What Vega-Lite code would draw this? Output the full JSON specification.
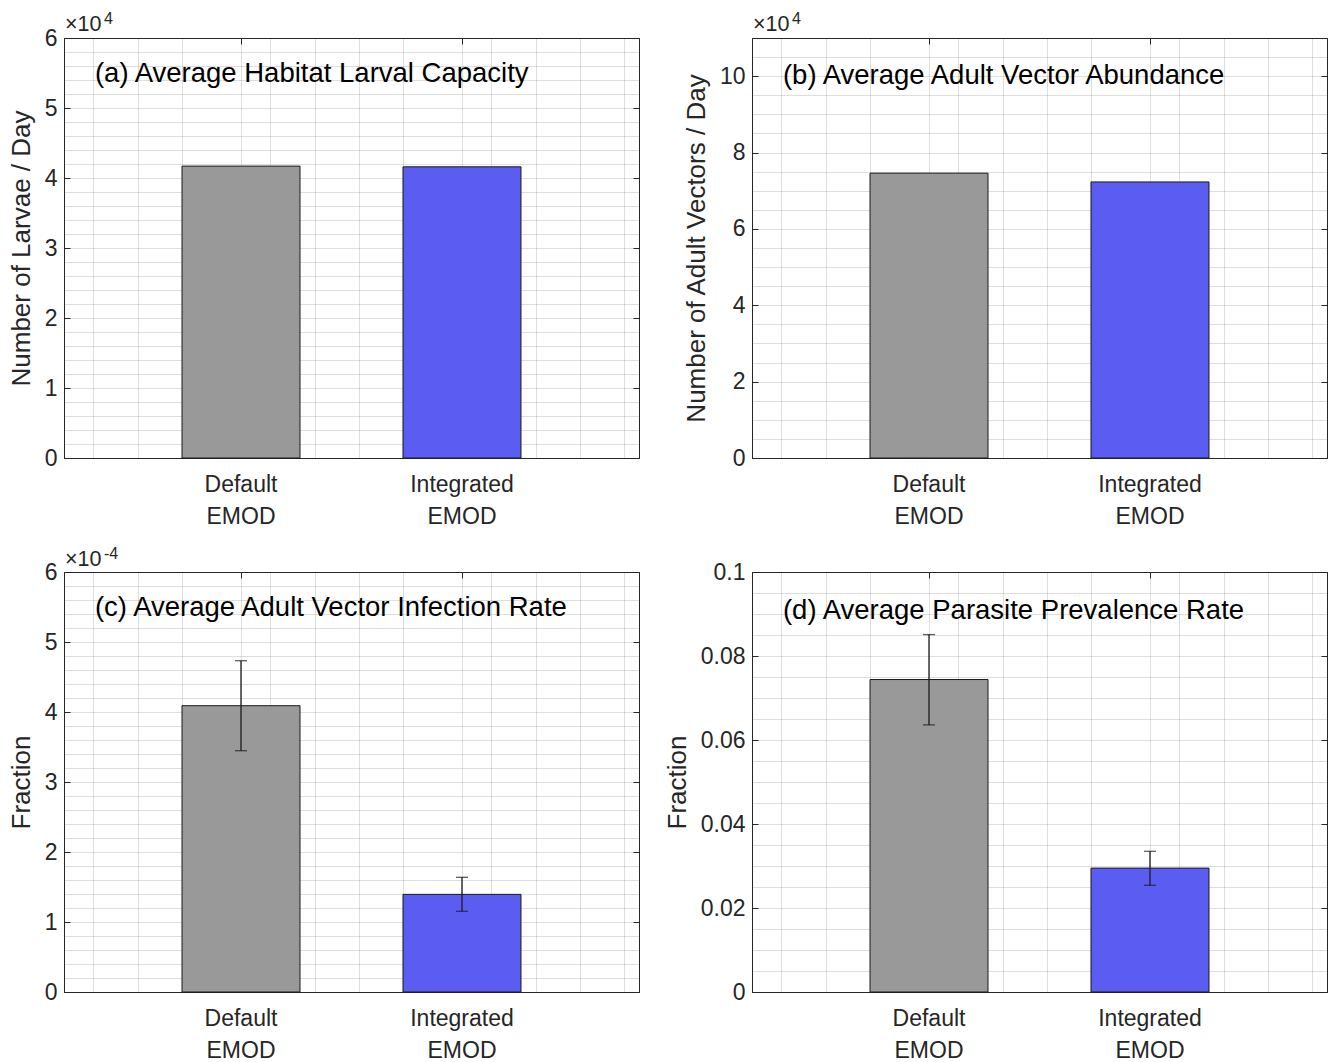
{
  "$schema": "https://vega.github.io/schema/vega-lite/v6.json",
  "background": "white",
  "padding": {"left": 7, "top": 10, "right": 2, "bottom": 2},
  "columns": 2,
  "spacing": {"row": 114, "column": 113},
  "bounds": "flush",
  "concat": [
    {
      "width": 575, "height": 420,
      "data": {"values": [{"model": "Default EMOD", "value": 41700}, {"model": "Integrated EMOD", "value": 41600}]},
      "layer": [
        {"layer": [
          {"mark": {"type": "bar", "stroke": "#1a1a1a", "strokeWidth": 1},
           "encoding": {
             "x": {"field": "model", "type": "nominal", "sort": null, "scale": {"paddingInner": 0.466, "paddingOuter": 0.534},
                   "axis": {"title": null, "labelAngle": 0, "labelExpr": "split(datum.label, ' ')", "labelLineHeight": 32, "labelPadding": 21, "grid": false, "labelBaseline": "top"}},
             "y": {"field": "value", "type": "quantitative", "scale": {"domain": [0, 60000], "nice": false},
                   "axis": {"title": "Number of Larvae / Day", "values": [0,2000,4000,6000,8000,10000,12000,14000,16000,18000,20000,22000,24000,26000,28000,30000,32000,34000,36000,38000,40000,42000,44000,46000,48000,50000,52000,54000,56000,58000,60000],
                            "labelExpr": "datum.value % 10000 == 0 ? format(datum.value/10000,'d') : ''",
                            "gridOpacity": {"condition": {"test": "datum.value % 10000 == 0", "value": 0.15}, "value": 0.3},
                            "gridDash": {"condition": {"test": "datum.value % 10000 == 0", "value": []}, "value": [1, 1]},
                            "tickOpacity": {"condition": {"test": "datum.value % 10000 == 0", "value": 1}, "value": 0}}},
             "color": {"field": "model", "type": "nominal", "scale": {"domain": ["Default EMOD", "Integrated EMOD"], "range": ["#999999", "#5b5cf2"]}, "legend": null}
           }}
        ]},
        {"data": {"values": [{}]},
         "layer": [
          {"mark": {"type": "text", "text": "(a) Average Habitat Larval Capacity", "align": "left", "baseline": "middle", "fontSize": 27.5, "color": "#000000"},
           "encoding": {
             "x": {"datum": 0.34, "type": "quantitative", "scale": {"domain": [0.2, 2.8], "nice": false, "zero": false},
                   "axis": {"orient": "top", "title": null, "labels": false, "grid": true, "values": [0.333,0.533,0.733,1,1.133,1.333,1.533,1.733,2,2.133,2.333,2.533,2.733],
                            "gridOpacity": {"condition": {"test": "datum.value == 1 || datum.value == 2", "value": 0.15}, "value": 0.3},
                            "gridDash": {"condition": {"test": "datum.value == 1 || datum.value == 2", "value": []}, "value": [1, 1]},
                            "tickOpacity": {"condition": {"test": "datum.value == 1 || datum.value == 2", "value": 1}, "value": 0}}},
             "y": {"datum": 54860, "type": "quantitative",
                   "axis": {"orient": "right", "title": null, "labels": false, "grid": false, "domain": false, "values": [0,10000,20000,30000,40000,50000,60000]}}
           }},
          {"mark": {"type": "text", "text": "×10", "align": "left", "baseline": "alphabetic", "fontSize": 21.5, "dx": 1, "dy": -7, "color": "#262626"},
           "encoding": {"x": {"datum": 0.2, "type": "quantitative"}, "y": {"datum": 60000, "type": "quantitative"}}},
          {"mark": {"type": "text", "text": "4", "align": "left", "baseline": "alphabetic", "fontSize": 16, "dx": 40, "dy": -14, "color": "#262626"},
           "encoding": {"x": {"datum": 0.2, "type": "quantitative"}, "y": {"datum": 60000, "type": "quantitative"}}}
         ]}
      ],
      "resolve": {"scale": {"x": "independent"}, "axis": {"y": "independent"}}
    },
    {
      "width": 575, "height": 420,
      "data": {"values": [{"model": "Default EMOD", "value": 74600}, {"model": "Integrated EMOD", "value": 72300}]},
      "layer": [
        {"layer": [
          {"mark": {"type": "bar", "stroke": "#1a1a1a", "strokeWidth": 1},
           "encoding": {
             "x": {"field": "model", "type": "nominal", "sort": null, "scale": {"paddingInner": 0.466, "paddingOuter": 0.534},
                   "axis": {"title": null, "labelAngle": 0, "labelExpr": "split(datum.label, ' ')", "labelLineHeight": 32, "labelPadding": 21, "grid": false, "labelBaseline": "top"}},
             "y": {"field": "value", "type": "quantitative", "scale": {"domain": [0, 110000], "nice": false},
                   "axis": {"title": "Number of Adult Vectors / Day", "values": [0,5000,10000,15000,20000,25000,30000,35000,40000,45000,50000,55000,60000,65000,70000,75000,80000,85000,90000,95000,100000,105000,110000],
                            "labelExpr": "datum.value % 20000 == 0 ? format(datum.value/10000,'d') : ''",
                            "gridOpacity": {"condition": {"test": "datum.value % 20000 == 0", "value": 0.15}, "value": 0.3},
                            "gridDash": {"condition": {"test": "datum.value % 20000 == 0", "value": []}, "value": [1, 1]},
                            "tickOpacity": {"condition": {"test": "datum.value % 20000 == 0", "value": 1}, "value": 0}}},
             "color": {"field": "model", "type": "nominal", "scale": {"domain": ["Default EMOD", "Integrated EMOD"], "range": ["#999999", "#5b5cf2"]}, "legend": null}
           }}
        ]},
        {"data": {"values": [{}]},
         "layer": [
          {"mark": {"type": "text", "text": "(b) Average Adult Vector Abundance", "align": "left", "baseline": "middle", "fontSize": 27.5, "color": "#000000"},
           "encoding": {
             "x": {"datum": 0.34, "type": "quantitative", "scale": {"domain": [0.2, 2.8], "nice": false, "zero": false},
                   "axis": {"orient": "top", "title": null, "labels": false, "grid": true, "values": [0.333,0.533,0.733,1,1.133,1.333,1.533,1.733,2,2.133,2.333,2.533,2.733],
                            "gridOpacity": {"condition": {"test": "datum.value == 1 || datum.value == 2", "value": 0.15}, "value": 0.3},
                            "gridDash": {"condition": {"test": "datum.value == 1 || datum.value == 2", "value": []}, "value": [1, 1]},
                            "tickOpacity": {"condition": {"test": "datum.value == 1 || datum.value == 2", "value": 1}, "value": 0}}},
             "y": {"datum": 100000, "type": "quantitative",
                   "axis": {"orient": "right", "title": null, "labels": false, "grid": false, "domain": false, "values": [0,20000,40000,60000,80000,100000]}}
           }},
          {"mark": {"type": "text", "text": "×10", "align": "left", "baseline": "alphabetic", "fontSize": 21.5, "dx": 1, "dy": -7, "color": "#262626"},
           "encoding": {"x": {"datum": 0.2, "type": "quantitative"}, "y": {"datum": 110000, "type": "quantitative"}}},
          {"mark": {"type": "text", "text": "4", "align": "left", "baseline": "alphabetic", "fontSize": 16, "dx": 40, "dy": -14, "color": "#262626"},
           "encoding": {"x": {"datum": 0.2, "type": "quantitative"}, "y": {"datum": 110000, "type": "quantitative"}}}
         ]}
      ],
      "resolve": {"scale": {"x": "independent"}, "axis": {"y": "independent"}}
    },
    {
      "width": 575, "height": 420,
      "data": {"values": [{"model": "Default EMOD", "value": 0.000409, "lo": 0.0003447, "hi": 0.0004733}, {"model": "Integrated EMOD", "value": 0.0001395, "lo": 0.0001153, "hi": 0.0001638}]},
      "layer": [
        {"layer": [
          {"mark": {"type": "bar", "stroke": "#1a1a1a", "strokeWidth": 1},
           "encoding": {
             "x": {"field": "model", "type": "nominal", "sort": null, "scale": {"paddingInner": 0.466, "paddingOuter": 0.534},
                   "axis": {"title": null, "labelAngle": 0, "labelExpr": "split(datum.label, ' ')", "labelLineHeight": 32, "labelPadding": 21, "grid": false, "labelBaseline": "top"}},
             "y": {"field": "value", "type": "quantitative", "scale": {"domain": [0, 0.0006], "nice": false},
                   "axis": {"title": "Fraction", "values": [0,2e-5,4e-5,6e-5,8e-5,1e-4,1.2e-4,1.4e-4,1.6e-4,1.8e-4,2e-4,2.2e-4,2.4e-4,2.6e-4,2.8e-4,3e-4,3.2e-4,3.4e-4,3.6e-4,3.8e-4,4e-4,4.2e-4,4.4e-4,4.6e-4,4.8e-4,5e-4,5.2e-4,5.4e-4,5.6e-4,5.8e-4,6e-4],
                            "labelExpr": "abs(datum.value*1e4 - round(datum.value*1e4)) < 1e-6 ? format(round(datum.value*1e4),'d') : ''",
                            "gridOpacity": {"condition": {"test": "abs(datum.value*1e4 - round(datum.value*1e4)) < 1e-6", "value": 0.15}, "value": 0.3},
                            "gridDash": {"condition": {"test": "abs(datum.value*1e4 - round(datum.value*1e4)) < 1e-6", "value": []}, "value": [1, 1]},
                            "tickOpacity": {"condition": {"test": "abs(datum.value*1e4 - round(datum.value*1e4)) < 1e-6", "value": 1}, "value": 0}}},
             "color": {"field": "model", "type": "nominal", "scale": {"domain": ["Default EMOD", "Integrated EMOD"], "range": ["#999999", "#5b5cf2"]}, "legend": null}
           }},
          {"mark": {"type": "errorbar", "ticks": true, "size": 12, "thickness": 1.3, "color": "#1a1a1a"},
           "encoding": {
             "x": {"field": "model", "type": "nominal", "sort": null,
                   "axis": {"title": null, "labelAngle": 0, "labelExpr": "split(datum.label, ' ')", "labelLineHeight": 32, "labelPadding": 21, "grid": false, "labelBaseline": "top"}},
             "y": {"field": "lo", "type": "quantitative",
                   "axis": {"title": "Fraction", "values": [0,2e-5,4e-5,6e-5,8e-5,1e-4,1.2e-4,1.4e-4,1.6e-4,1.8e-4,2e-4,2.2e-4,2.4e-4,2.6e-4,2.8e-4,3e-4,3.2e-4,3.4e-4,3.6e-4,3.8e-4,4e-4,4.2e-4,4.4e-4,4.6e-4,4.8e-4,5e-4,5.2e-4,5.4e-4,5.6e-4,5.8e-4,6e-4],
                            "labelExpr": "abs(datum.value*1e4 - round(datum.value*1e4)) < 1e-6 ? format(round(datum.value*1e4),'d') : ''",
                            "gridOpacity": {"condition": {"test": "abs(datum.value*1e4 - round(datum.value*1e4)) < 1e-6", "value": 0.15}, "value": 0.3},
                            "gridDash": {"condition": {"test": "abs(datum.value*1e4 - round(datum.value*1e4)) < 1e-6", "value": []}, "value": [1, 1]},
                            "tickOpacity": {"condition": {"test": "abs(datum.value*1e4 - round(datum.value*1e4)) < 1e-6", "value": 1}, "value": 0}}},
             "y2": {"field": "hi"}
           }}
        ]},
        {"data": {"values": [{}]},
         "layer": [
          {"mark": {"type": "text", "text": "(c) Average Adult Vector Infection Rate", "align": "left", "baseline": "middle", "fontSize": 27.5, "color": "#000000"},
           "encoding": {
             "x": {"datum": 0.34, "type": "quantitative", "scale": {"domain": [0.2, 2.8], "nice": false, "zero": false},
                   "axis": {"orient": "top", "title": null, "labels": false, "grid": true, "values": [0.333,0.533,0.733,1,1.133,1.333,1.533,1.733,2,2.133,2.333,2.533,2.733],
                            "gridOpacity": {"condition": {"test": "datum.value == 1 || datum.value == 2", "value": 0.15}, "value": 0.3},
                            "gridDash": {"condition": {"test": "datum.value == 1 || datum.value == 2", "value": []}, "value": [1, 1]},
                            "tickOpacity": {"condition": {"test": "datum.value == 1 || datum.value == 2", "value": 1}, "value": 0}}},
             "y": {"datum": 0.0005486, "type": "quantitative",
                   "axis": {"orient": "right", "title": null, "labels": false, "grid": false, "domain": false, "values": [0,1e-4,2e-4,3e-4,4e-4,5e-4,6e-4]}}
           }},
          {"mark": {"type": "text", "text": "×10", "align": "left", "baseline": "alphabetic", "fontSize": 21.5, "dx": 1, "dy": -6, "color": "#262626"},
           "encoding": {"x": {"datum": 0.2, "type": "quantitative"}, "y": {"datum": 0.0006, "type": "quantitative"}}},
          {"mark": {"type": "text", "text": "-4", "align": "left", "baseline": "alphabetic", "fontSize": 16, "dx": 40, "dy": -13, "color": "#262626"},
           "encoding": {"x": {"datum": 0.2, "type": "quantitative"}, "y": {"datum": 0.0006, "type": "quantitative"}}}
         ]}
      ],
      "resolve": {"scale": {"x": "independent"}, "axis": {"y": "independent"}}
    },
    {
      "width": 575, "height": 420,
      "data": {"values": [{"model": "Default EMOD", "value": 0.0744, "lo": 0.0636, "hi": 0.0851}, {"model": "Integrated EMOD", "value": 0.0295, "lo": 0.0254, "hi": 0.0335}]},
      "layer": [
        {"layer": [
          {"mark": {"type": "bar", "stroke": "#1a1a1a", "strokeWidth": 1},
           "encoding": {
             "x": {"field": "model", "type": "nominal", "sort": null, "scale": {"paddingInner": 0.466, "paddingOuter": 0.534},
                   "axis": {"title": null, "labelAngle": 0, "labelExpr": "split(datum.label, ' ')", "labelLineHeight": 32, "labelPadding": 21, "grid": false, "labelBaseline": "top"}},
             "y": {"field": "value", "type": "quantitative", "scale": {"domain": [0, 0.1], "nice": false},
                   "axis": {"title": "Fraction", "values": [0,0.005,0.01,0.015,0.02,0.025,0.03,0.035,0.04,0.045,0.05,0.055,0.06,0.065,0.07,0.075,0.08,0.085,0.09,0.095,0.1],
                            "labelExpr": "abs(datum.value*50 - round(datum.value*50)) < 1e-6 ? format(datum.value,'~g') : ''",
                            "gridOpacity": {"condition": {"test": "abs(datum.value*50 - round(datum.value*50)) < 1e-6", "value": 0.15}, "value": 0.3},
                            "gridDash": {"condition": {"test": "abs(datum.value*50 - round(datum.value*50)) < 1e-6", "value": []}, "value": [1, 1]},
                            "tickOpacity": {"condition": {"test": "abs(datum.value*50 - round(datum.value*50)) < 1e-6", "value": 1}, "value": 0}}},
             "color": {"field": "model", "type": "nominal", "scale": {"domain": ["Default EMOD", "Integrated EMOD"], "range": ["#999999", "#5b5cf2"]}, "legend": null}
           }},
          {"mark": {"type": "errorbar", "ticks": true, "size": 12, "thickness": 1.3, "color": "#1a1a1a"},
           "encoding": {
             "x": {"field": "model", "type": "nominal", "sort": null,
                   "axis": {"title": null, "labelAngle": 0, "labelExpr": "split(datum.label, ' ')", "labelLineHeight": 32, "labelPadding": 21, "grid": false, "labelBaseline": "top"}},
             "y": {"field": "lo", "type": "quantitative",
                   "axis": {"title": "Fraction", "values": [0,0.005,0.01,0.015,0.02,0.025,0.03,0.035,0.04,0.045,0.05,0.055,0.06,0.065,0.07,0.075,0.08,0.085,0.09,0.095,0.1],
                            "labelExpr": "abs(datum.value*50 - round(datum.value*50)) < 1e-6 ? format(datum.value,'~g') : ''",
                            "gridOpacity": {"condition": {"test": "abs(datum.value*50 - round(datum.value*50)) < 1e-6", "value": 0.15}, "value": 0.3},
                            "gridDash": {"condition": {"test": "abs(datum.value*50 - round(datum.value*50)) < 1e-6", "value": []}, "value": [1, 1]},
                            "tickOpacity": {"condition": {"test": "abs(datum.value*50 - round(datum.value*50)) < 1e-6", "value": 1}, "value": 0}}},
             "y2": {"field": "hi"}
           }}
        ]},
        {"data": {"values": [{}]},
         "layer": [
          {"mark": {"type": "text", "text": "(d) Average Parasite Prevalence Rate", "align": "left", "baseline": "middle", "fontSize": 27.5, "color": "#000000"},
           "encoding": {
             "x": {"datum": 0.34, "type": "quantitative", "scale": {"domain": [0.2, 2.8], "nice": false, "zero": false},
                   "axis": {"orient": "top", "title": null, "labels": false, "grid": true, "values": [0.333,0.533,0.733,1,1.133,1.333,1.533,1.733,2,2.133,2.333,2.533,2.733],
                            "gridOpacity": {"condition": {"test": "datum.value == 1 || datum.value == 2", "value": 0.15}, "value": 0.3},
                            "gridDash": {"condition": {"test": "datum.value == 1 || datum.value == 2", "value": []}, "value": [1, 1]},
                            "tickOpacity": {"condition": {"test": "datum.value == 1 || datum.value == 2", "value": 1}, "value": 0}}},
             "y": {"datum": 0.0907, "type": "quantitative",
                   "axis": {"orient": "right", "title": null, "labels": false, "grid": false, "domain": false, "values": [0,0.02,0.04,0.06,0.08,0.1]}}
           }}
         ]}
      ],
      "resolve": {"scale": {"x": "independent"}, "axis": {"y": "independent"}}
    }
  ],
  "config": {
    "font": "Liberation Sans",
    "view": {"stroke": "#262626", "strokeWidth": 1},
    "text": {"font": "Liberation Sans"},
    "axis": {
      "labelFont": "Liberation Sans", "titleFont": "Liberation Sans", "labelFontSize": 23, "titleFontSize": 26,
      "titleFontWeight": "normal", "labelColor": "#262626", "titleColor": "#262626",
      "domainColor": "#262626", "domainWidth": 1, "tickColor": "#262626", "tickSize": -6, "tickWidth": 1,
      "gridColor": "#262626", "grid": true, "zindex": 1, "labelOverlap": false, "labelPadding": 13, "titlePadding": 10
    }
  }
}
